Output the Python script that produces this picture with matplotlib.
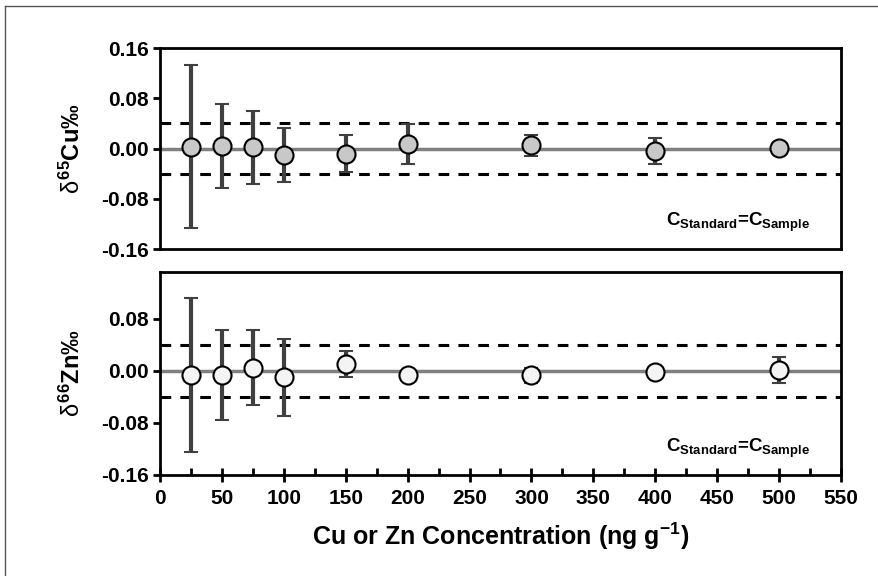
import matplotlib.pyplot as plt
import matplotlib.lines as mlines

plt.rcParams['font.family'] = ['Liberation Sans', 'DejaVu Sans']
plt.rcParams['font.weight'] = 'bold'
plt.rcParams['mathtext.fontset'] = 'custom'
plt.rcParams['mathtext.rm'] = 'Liberation Sans:bold'
plt.rcParams['mathtext.bf'] = 'Liberation Sans:bold'
plt.rcParams['mathtext.it'] = 'Liberation Sans:normal'

conc = [25, 50, 75, 100, 150, 200, 300, 400, 500]
cu_delta = [0.003, 0.004, 0.002, -0.010, -0.008, 0.007, 0.005, -0.004, 0.001]
cu_err = [0.130, 0.067, 0.058, 0.043, 0.029, 0.032, 0.017, 0.020, 0.006]
zn_delta = [-0.006, -0.006, 0.005, -0.010, 0.010, -0.007, -0.007, -0.002, 0.002]
zn_err = [0.118, 0.069, 0.058, 0.059, 0.020, 0.004, 0.012, 0.004, 0.020]
limit = 0.04

fig = plt.figure(figsize=(8.79, 5.76), dpi=100)
W, H = 879, 576
ax1 = fig.add_axes([160 / W, 1 - 249 / H, 681 / W, 201 / H])
ax2 = fig.add_axes([160 / W, 1 - 475 / H, 681 / W, 203 / H])

panels = [
    (ax1, cu_delta, cu_err, '#c8c8c8', r'$\delta^{\mathbf{65}}$Cu‰', (-0.16, 0.16)),
    (ax2, zn_delta, zn_err, '#f4f4f4', r'$\delta^{\mathbf{66}}$Zn‰', (-0.16, 0.152)),
]
for ax, d, e, fc, lab, ylim in panels:
    ax.axhline(0, color='#808080', lw=2.5, zorder=1)
    ax.axhline(limit, color='black', lw=2.2, ls=(0, (3.5, 3)), zorder=1)
    ax.axhline(-limit, color='black', lw=2.2, ls=(0, (3.5, 3)), zorder=1)
    ax.errorbar(conc, d, yerr=e, fmt='o', ms=13, mfc=fc, mec='black', mew=1.5,
                ecolor='#404040', elinewidth=3, capsize=5, capthick=3, zorder=3)
    ax.set_xlim(0, 550)
    ax.set_ylim(*ylim)
    ax.set_yticks([-0.16, -0.08, 0.0, 0.08] + ([0.16] if ax is ax1 else []))
    ax.yaxis.set_major_formatter(plt.FuncFormatter(lambda v, p: '%.2f' % v))
    ax.tick_params(axis='y', direction='out', length=5, width=2, labelsize=15, pad=3)
    ax.set_ylabel(lab, fontsize=17, fontweight='bold', labelpad=12)
    for s in ax.spines.values():
        s.set_linewidth(2)
    ax.text(0.955, 0.13, r'C$_{\mathregular{Standard}}$=C$_{\mathregular{Sample}}$',
            transform=ax.transAxes, ha='right', va='center', fontsize=13.5, fontweight='bold')

ax1.set_xticks([])
ax2.set_xticks(range(0, 551, 50))
ax2.set_xticks(range(25, 551, 50), minor=True)
ax2.tick_params(axis='x', which='major', direction='inout', length=10, width=2, labelsize=15, pad=5)
ax2.tick_params(axis='x', which='minor', direction='in', length=5, width=2)
ax2.set_xlabel(r'Cu or Zn Concentration (ng g$^{\mathregular{-1}}$)', fontsize=18, fontweight='bold', labelpad=9)

fig.add_artist(mlines.Line2D([5 / W, 5 / W], [0, 1 - 6 / H], color='#555555', lw=1))
fig.add_artist(mlines.Line2D([5 / W, 1], [1 - 6 / H, 1 - 6 / H], color='#555555', lw=1))

fig.savefig('out.png', dpi=100)
